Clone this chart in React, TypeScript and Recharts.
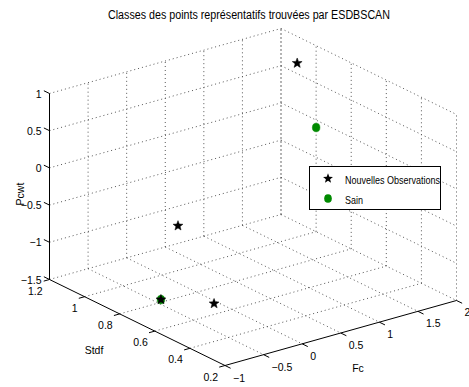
import React from "react";
import {
  ScatterChart,
  Scatter,
  XAxis,
  YAxis,
  ReferenceLine,
  Legend,
  Customized,
} from "recharts";

// ---- data ----
const FC_TICKS = [-1, -0.5, 0, 0.5, 1, 1.5, 2];
const STDF_TICKS = [1.2, 1, 0.8, 0.6, 0.4, 0.2];
const PCWT_TICKS = [1, 0.5, 0, -0.5, -1, -1.5];

const obsFc = [1.55, -0.29, -0.05, -0.42];
const obsStdf = [0.91, 0.78, 0.68, 0.82];
const obsPcwt = [1, -0.5, -1.5, -1.5];

const sainFc = [1.25, -0.42];
const sainStdf = [0.67, 0.82];
const sainPcwt = [0.5, -1.5];

const TITLE = "Classes des points représentatifs trouvées par ESDBSCAN";
const SERIES_NAMES = ["Nouvelles Observations", "Sain"];

// ---- 3D view (camera) ----
const W = 469;
const H = 387;
const ORIGIN = { x: 49.5, y: 279.5 }; // (Fc=-1, Stdf=1.2, Pcwt=-1.5)
const F_VEC = { x: 77.17, y: -21.67 }; // per +1 Fc
const S_VEC = { x: -175.5, y: -86 }; // per +1 Stdf
const Z_VEC = { x: 0, y: -74.4 }; // per +1 Pcwt
const FMIN = -1, FMAX = 2, SMIN = 0.2, SMAX = 1.2, ZMIN = -1.5, ZMAX = 1;

const proj = (f: number, s: number, z: number) => ({
  x: ORIGIN.x + (f - FMIN) * F_VEC.x + (s - SMAX) * S_VEC.x + (z - ZMIN) * Z_VEC.x,
  y: ORIGIN.y + (f - FMIN) * F_VEC.y + (s - SMAX) * S_VEC.y + (z - ZMIN) * Z_VEC.y,
});

type Seg = { a: { x: number; y: number }; b: { x: number; y: number } };
const seg = (p: number[], q: number[]): Seg => ({
  a: proj(p[0], p[1], p[2]),
  b: proj(q[0], q[1], q[2]),
});

const gridSegs: Seg[] = [];
FC_TICKS.filter((f) => f !== FMIN).forEach((f) => {
  gridSegs.push(seg([f, SMAX, ZMIN], [f, SMAX, ZMAX]));
  gridSegs.push(seg([f, SMAX, ZMIN], [f, SMIN, ZMIN]));
});
STDF_TICKS.forEach((s) => {
  gridSegs.push(seg([FMAX, s, ZMIN], [FMAX, s, ZMAX]));
  if (s !== SMIN) gridSegs.push(seg([FMIN, s, ZMIN], [FMAX, s, ZMIN]));
});
PCWT_TICKS.filter((z) => z !== ZMIN).forEach((z) => {
  gridSegs.push(seg([FMIN, SMAX, z], [FMAX, SMAX, z]));
  gridSegs.push(seg([FMAX, SMAX, z], [FMAX, SMIN, z]));
});

const axisSegs: Seg[] = [
  seg([FMIN, SMAX, ZMIN], [FMIN, SMAX, ZMAX]),
  seg([FMIN, SMAX, ZMIN], [FMIN, SMIN, ZMIN]),
  seg([FMIN, SMIN, ZMIN], [FMAX, SMIN, ZMIN]),
];
const tickSegs: Seg[] = [
  ...PCWT_TICKS.map((z) => seg([FMIN, SMAX, z], [FMIN, SMAX + 0.032, z])),
  ...STDF_TICKS.map((s) => seg([FMIN, s, ZMIN], [FMIN - 0.075, s, ZMIN])),
  ...FC_TICKS.map((f) => seg([f, SMIN, ZMIN], [f, SMIN - 0.032, ZMIN])),
];

const zLabels = PCWT_TICKS.map((z) => ({ ...proj(FMIN, SMAX, z), label: String(z).replace("-", "\u2212") }));
const sLabels = STDF_TICKS.map((s) => ({ ...proj(FMIN, s, ZMIN), label: String(s) }));
const fLabels = FC_TICKS.map((f) => ({ ...proj(f, SMIN, ZMIN), label: String(f).replace("-", "\u2212") }));

const obsData = obsFc.map((f, i) => proj(f, obsStdf[i], obsPcwt[i]));
const sainData = sainFc.map((f, i) => proj(f, sainStdf[i], sainPcwt[i]));

const FONT = "'Liberation Sans', Arial, Helvetica, sans-serif";
const GREEN = "#008a00";

const starPath = (cx: number, cy: number, R: number, r: number) => {
  let d = "";
  for (let i = 0; i < 10; i++) {
    const ang = -Math.PI / 2 + (i * Math.PI) / 5;
    const rad = i % 2 === 0 ? R : r;
    d += (i === 0 ? "M" : "L") + (cx + rad * Math.cos(ang)).toFixed(2) + "," + (cy + rad * Math.sin(ang)).toFixed(2);
  }
  return d + "Z";
};

const StarShape = (props: any) => (
  <path d={starPath(props.cx, props.cy, 5.2, 2.2)} fill="#000" stroke="#000" strokeWidth={0.5} />
);
const CircleShape = (props: any) => (
  <ellipse cx={props.cx} cy={props.cy} rx={3.8} ry={4.3} fill={GREEN} stroke={GREEN} strokeWidth={0.5} />
);

const labelShape = (dx: number, dy: number, anchor: string) => (props: any) => (
  <text
    x={props.cx + dx}
    y={props.cy + dy}
    textAnchor={anchor}
    dominantBaseline="central"
    fontFamily={FONT}
    fontSize={10.5}
    fill="#000"
  >
    {props.payload.label}
  </text>
);

const LegendBox = () => (
  <svg width={132} height={45} style={{ display: "block", overflow: "visible" }}>
    <rect x={0.5} y={0.5} width={131} height={43} fill="#fff" stroke="#000" strokeWidth={1} />
    <path d={starPath(19, 12.5, 5.2, 2.2)} fill="#000" />
    <ellipse cx={19} cy={32.5} rx={3.8} ry={4.3} fill={GREEN} />
    {SERIES_NAMES.map((name, i) => (
      <text
        key={name}
        x={36}
        y={14 + i * 20}
        dominantBaseline="central"
        fontFamily={FONT}
        fontSize={10.5}
        textLength={i === 0 ? 95 : 18}
        lengthAdjust="spacingAndGlyphs"
        fill="#000"
      >
        {name}
      </text>
    ))}
  </svg>
);

const Texts = () => (
  <g fontFamily={FONT} fill="#000">
    <text
      x={108}
      y={15}
      dominantBaseline="central"
      fontSize={12}
      textLength={282}
      lengthAdjust="spacingAndGlyphs"
    >
      {TITLE}
    </text>
    <text x={20} y={194} textAnchor="middle" dominantBaseline="central" fontSize={10.5} transform="rotate(-90 20 194)">
      Pcwt
    </text>
    <text x={94} y={350} textAnchor="middle" dominantBaseline="central" fontSize={10.5}>
      Stdf
    </text>
    <text x={358} y={368} textAnchor="middle" dominantBaseline="central" fontSize={10.5}>
      Fc
    </text>
  </g>
);

export default function App() {
  return (
    <div style={{ position: "absolute", left: 0, top: 0, width: W, height: H, background: "#fff" }}>
      <ScatterChart width={W} height={H} margin={{ top: 0, right: 0, bottom: 0, left: 0 }}>
        <XAxis type="number" dataKey="x" domain={[0, W]} hide allowDataOverflow />
        <YAxis type="number" dataKey="y" domain={[0, H]} reversed hide allowDataOverflow />
        {gridSegs.map((g, i) => (
          <ReferenceLine
            key={"g" + i}
            segment={[g.a, g.b]}
            stroke="#555"
            strokeWidth={1}
            strokeDasharray="1 3"
            ifOverflow="visible"
          />
        ))}
        {axisSegs.map((g, i) => (
          <ReferenceLine key={"a" + i} segment={[g.a, g.b]} stroke="#000" strokeWidth={1} ifOverflow="visible" />
        ))}
        {tickSegs.map((g, i) => (
          <ReferenceLine key={"t" + i} segment={[g.a, g.b]} stroke="#000" strokeWidth={1} ifOverflow="visible" />
        ))}
        <Scatter data={zLabels} shape={labelShape(-8, 0, "end")} isAnimationActive={false} legendType="none" />
        <Scatter data={sLabels} shape={labelShape(-7, 11, "end")} isAnimationActive={false} legendType="none" />
        <Scatter data={fLabels} shape={labelShape(8, 12, "start")} isAnimationActive={false} legendType="none" />
        <Scatter name="Sain" data={sainData} shape={CircleShape} isAnimationActive={false} />
        <Scatter name="Nouvelles Observations" data={obsData} shape={StarShape} isAnimationActive={false} />
        <Customized component={Texts} />
        <Legend
          layout="vertical"
          align="center"
          verticalAlign="middle"
          content={LegendBox}
          wrapperStyle={{ position: "absolute", left: 309, top: 166, width: 132, height: 44 }}
        />
      </ScatterChart>
    </div>
  );
}
